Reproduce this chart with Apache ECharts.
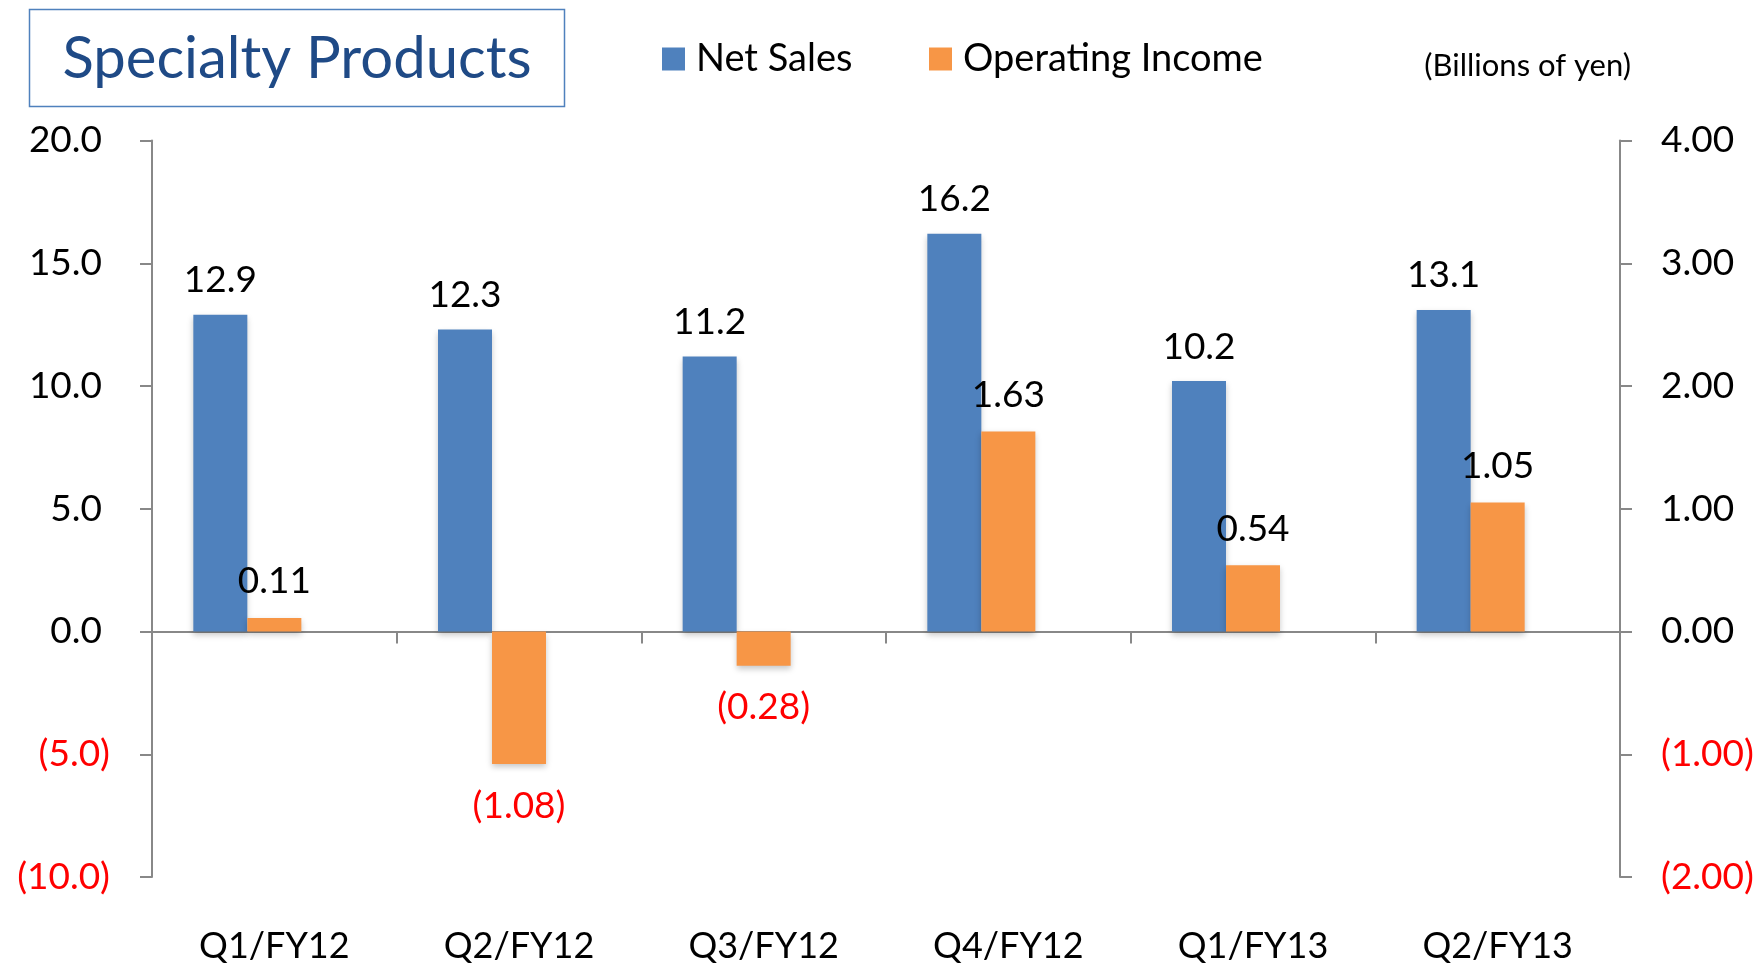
<!DOCTYPE html>
<html>
<head>
<meta charset="utf-8">
<script src="https://cdn.jsdelivr.net/npm/echarts@6/dist/echarts.min.js"></script>
<style>
html,body{margin:0;padding:0;background:#fff;}
#chart{width:1760px;height:964px;}
</style>
</head>
<body>
<div id="chart"></div>
<script>
const categories = ['Q1/FY12', 'Q2/FY12', 'Q3/FY12', 'Q4/FY12', 'Q1/FY13', 'Q2/FY13'];
const netSales = [12.9, 12.3, 11.2, 16.2, 10.2, 13.1];
const operatingIncome = [0.11, -1.08, -0.28, 1.63, 0.54, 1.05];
const spacer = [null, null, null, null, null, null];
const titleText = 'Specialty Products';
const unitText = '(Billions of yen)';

const FONT = 'Lato';
const AXIS_GREY = '#888888';
const RED = '#FF0000';

function fmt(v, d) {
  return v < 0 ? '(' + Math.abs(v).toFixed(d) + ')' : v.toFixed(d);
}
function tickFmt(v, d) {
  return v < 0 ? '{n|' + fmt(v, d) + '}' : '{p|' + fmt(v, d) + '}';
}

const chart = echarts.init(document.getElementById('chart'));
const barShadow = { shadowBlur: 6, shadowOffsetY: 3, shadowColor: 'rgba(0,0,0,0.22)' };

chart.setOption({
  animation: false,
  backgroundColor: '#ffffff',
  textStyle: { fontFamily: FONT },
  graphic: [
    { type: 'rect', shape: { x: 29.5, y: 9.5, width: 535, height: 97 },
      style: { fill: 'none', stroke: '#4F81BD', lineWidth: 1.5 } },
    { type: 'text', x: 297, y: 59,
      style: { text: titleText, fontFamily: FONT, fontSize: 58, fill: '#1F4A86',
               textAlign: 'center', textVerticalAlign: 'middle' } },
    { type: 'text', x: 1631, y: 66,
      style: { text: unitText, fontFamily: FONT, fontSize: 31, fill: '#000',
               textAlign: 'right', textVerticalAlign: 'middle' } }
  ],
  legend: [
    { left: 662, top: 40, padding: 0, itemWidth: 23, itemHeight: 23, icon: 'rect',
      data: ['Net Sales'], textStyle: { fontFamily: FONT, fontSize: 38, color: '#000', padding: [0, 0, 0, 6] } },
    { left: 929, top: 40, padding: 0, itemWidth: 23, itemHeight: 23, icon: 'rect',
      data: ['Operating Income'], textStyle: { fontFamily: FONT, fontSize: 38, color: '#000', padding: [0, 0, 0, 6] } }
  ],
  grid: { left: 152, right: 140, top: 140.5, bottom: 86.5, containLabel: false },
  xAxis: [
    { type: 'category', data: categories, position: 'bottom',
      axisLine: { show: false, onZero: false }, axisTick: { show: false },
      axisLabel: { fontFamily: FONT, fontSize: 36, color: '#000', margin: 51 } },
    { type: 'category', data: categories, position: 'bottom',
      axisLine: { show: true, onZero: true, onZeroAxisIndex: 0, lineStyle: { color: AXIS_GREY, width: 2 } },
      axisTick: { show: true, length: 12, lineStyle: { color: AXIS_GREY, width: 2 } },
      axisLabel: { show: false }, splitLine: { show: false } }
  ],
  yAxis: [
    { type: 'value', min: -10, max: 20, interval: 5, position: 'left',
      axisLine: { show: true, lineStyle: { color: AXIS_GREY, width: 2 } },
      axisTick: { show: true, length: 12, lineStyle: { color: AXIS_GREY, width: 2 } },
      splitLine: { show: false },
      axisLabel: { fontFamily: FONT, fontSize: 37, margin: 42,
        formatter: v => tickFmt(v, 1),
        rich: {
          p: { fontFamily: FONT, fontSize: 37, color: '#000', padding: [0, 8, 0, 0] },
          n: { fontFamily: FONT, fontSize: 37, color: RED }
        } } },
    { type: 'value', min: -2, max: 4, interval: 1, position: 'right',
      axisLine: { show: true, lineStyle: { color: AXIS_GREY, width: 2 } },
      axisTick: { show: true, length: 12, lineStyle: { color: AXIS_GREY, width: 2 } },
      splitLine: { show: false },
      axisLabel: { fontFamily: FONT, fontSize: 37, margin: 41,
        formatter: v => tickFmt(v, 2),
        rich: {
          p: { fontFamily: FONT, fontSize: 37, color: '#000' },
          n: { fontFamily: FONT, fontSize: 37, color: RED }
        } } }
  ],
  series: [
    { name: 'Net Sales', type: 'bar', xAxisIndex: 0, yAxisIndex: 0, data: netSales,
      barWidth: 54, barGap: '0%',
      itemStyle: Object.assign({ color: '#4F81BD' }, barShadow),
      label: { show: true, position: 'top', distance: 16, fontFamily: FONT, fontSize: 37, color: '#000',
        formatter: p => fmt(p.value, 1) } },
    { name: 'Operating Income', type: 'bar', xAxisIndex: 0, yAxisIndex: 1,
      data: operatingIncome.map(v => ({
        value: v,
        label: v < 0 ? { position: 'bottom', color: RED, distance: 23 } : { position: 'top', color: '#000', distance: 18 }
      })),
      barWidth: 54, barGap: '0%',
      itemStyle: Object.assign({ color: '#F79646' }, barShadow),
      label: { show: true, fontFamily: FONT, fontSize: 37,
        formatter: p => fmt(p.value, 2) } },
    { name: 'spacer', type: 'bar', xAxisIndex: 0, yAxisIndex: 1, data: spacer,
      barWidth: 54, barGap: '0%', silent: true, itemStyle: { color: 'transparent' } }
  ]
});
</script>
</body>
</html>
